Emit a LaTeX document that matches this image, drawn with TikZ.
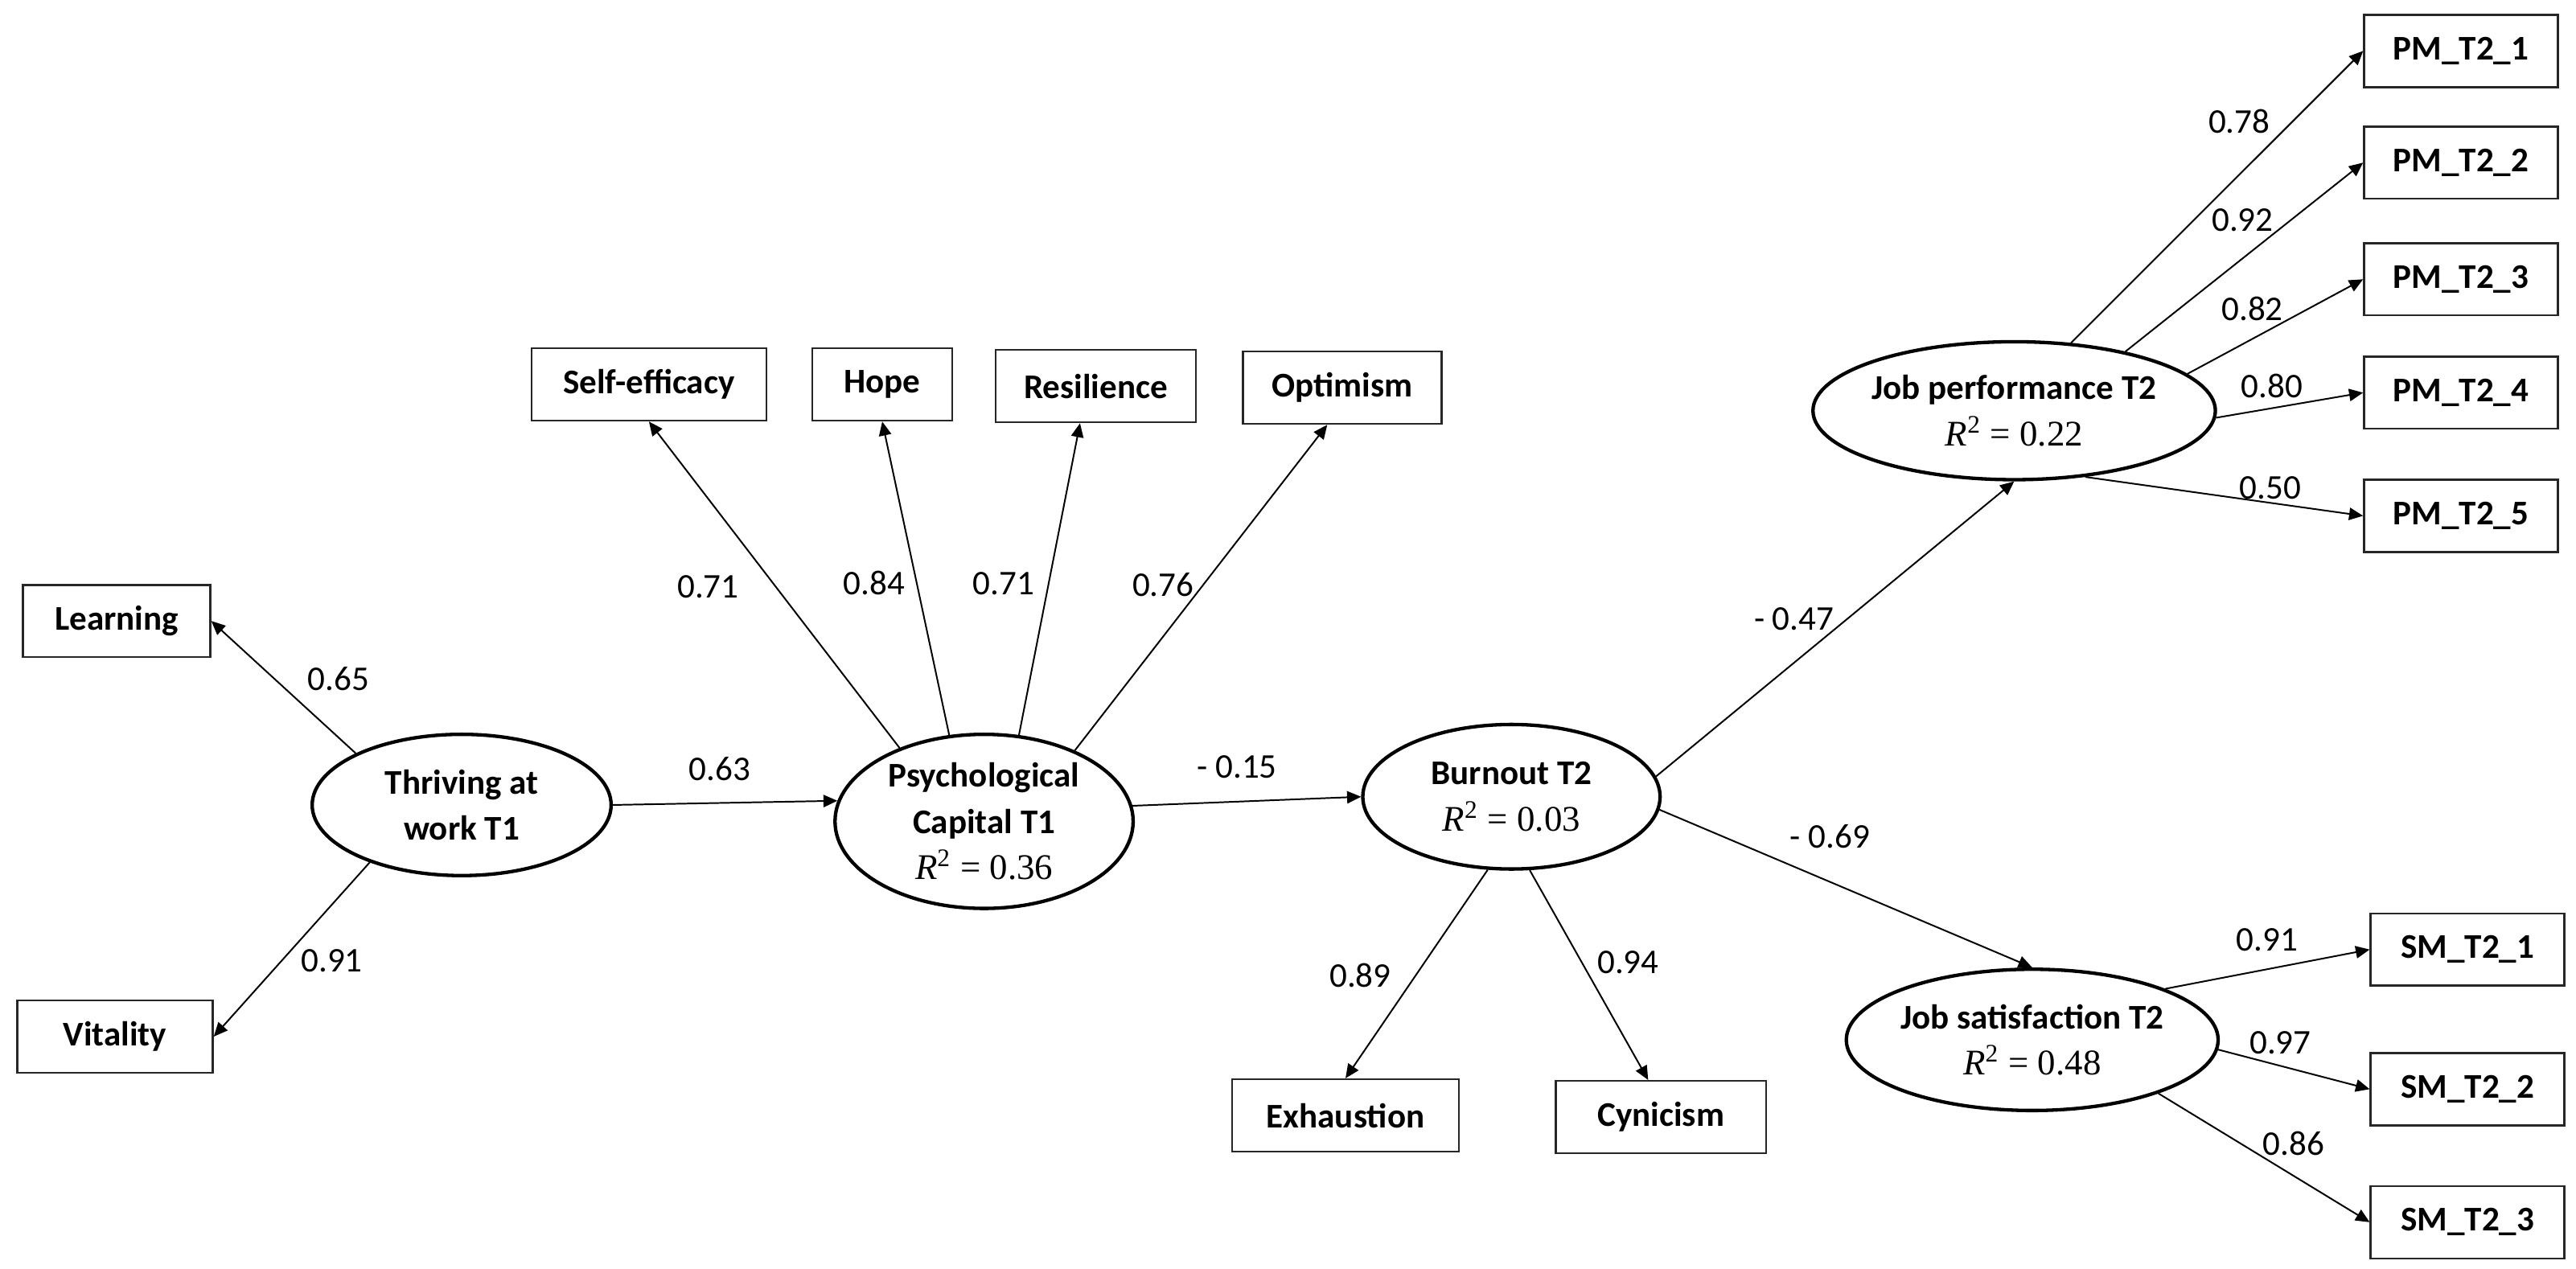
\documentclass[tikz,border=0pt]{standalone}
\usepackage{fontspec}
\setmainfont{Carlito}
\newfontfamily\timesfont{Liberation Serif}
\usetikzlibrary{shapes.geometric, arrows.meta, positioning}

\newcommand{\rsq}[1]{{\mdseries\timesfont\fontsize{12.5}{15}\selectfont\textit{R}\textsuperscript{2} = #1}}

\begin{document}
\begin{tikzpicture}[
    x=0.02cm, y=-0.02cm,
    latent/.style={ellipse, draw, line width=1.2pt, inner sep=0pt, align=center, font=\bfseries\fontsize{12}{16}\selectfont},
    item/.style={rectangle, draw=black!85, line width=0.7pt, minimum height=0.88cm, inner sep=0pt, font=\bfseries\fontsize{12}{14}\selectfont},
    arrow/.style={-{Triangle[length=0.17cm, width=0.15cm]}, line width=0.55pt},
    coef/.style={inner sep=1pt, font=\fontsize{12}{14}\selectfont}
]
\useasboundingbox (0,0) rectangle (1568,772);

\node[latent, minimum width=3.64cm, minimum height=1.72cm] (thr) at (281,490) {Thriving at\\work T1};
\node[latent, minimum width=3.63cm, minimum height=2.12cm] (psy) at (599,500) {Psychological\\Capital T1\\\rsq{0.36}};
\node[latent, minimum width=3.62cm, minimum height=1.76cm] (bo) at (920,485) {Burnout T2\\\rsq{0.03}};
\node[latent, minimum width=4.22cm, minimum height=1.68cm] (jp) at (1226,250) {Job performance T2\\\rsq{0.22}};
\node[latent, minimum width=4.1cm, minimum height=1.72cm] (js) at (1237,633) {Job satisfaction T2\\\rsq{0.48}};

\node[item, minimum width=2.28cm] (learn) at (71,378) {Learning};
\node[item, minimum width=2.38cm] (vital) at (70,631) {Vitality};
\node[item, minimum width=2.86cm] (seff) at (395,234) {Self-efficacy};
\node[item, minimum width=1.7cm] (hope) at (537,234) {Hope};
\node[item, minimum width=2.44cm] (resil) at (667,235) {Resilience};
\node[item, minimum width=2.42cm] (optim) at (817,236) {Optimism};
\node[item, minimum width=2.76cm] (exh) at (819,679) {Exhaustion};
\node[item, minimum width=2.56cm] (cyn) at (1011,680) {Cynicism};
\foreach \i/\y in {1/31, 2/99, 3/170, 4/239, 5/314}
    \node[item, minimum width=2.36cm] (pm\i) at (1498,\y) {PM\_T2\_\i};
\foreach \i/\y in {1/578, 2/663, 3/744}
    \node[item, minimum width=2.36cm] (sm\i) at (1502,\y) {SM\_T2\_\i};

\draw[arrow] (thr.154) -- (learn.east);
\draw[arrow] (thr.212) -- (vital.east);
\draw[arrow] (thr.east) -- (psy.172);
\draw[arrow] (psy.139) -- (seff.south);
\draw[arrow] (psy.112) -- (hope.south);
\draw[arrow] (psy.68) -- (resil.247);
\draw[arrow] (psy.38) -- (optim.248);
\draw[arrow] (psy.6) -- (bo.west);
\draw[arrow] (bo.252) -- (exh.north);
\draw[arrow] (bo.284) -- (cyn.109);
\draw[arrow] (bo.8) -- (jp.south);
\draw[arrow] (bo.355) -- (js.north);
\foreach \i/\a in {1/50, 2/28, 3/12, 4/358, 5/317}
    \draw[arrow] (jp.\a) -- (pm\i.west);
\foreach \i/\a in {1/21, 2/357, 3/337}
    \draw[arrow] (js.\a) -- (sm\i.west);

\node[coef] (c1) at (206,413) {0.65};
\node[coef] (c2) at (202,585) {0.91};
\node[coef] (c3) at (438,468) {0.63};
\node[coef] (c4) at (431,357) {0.71};
\node[coef] (c5) at (532,355) {0.84};
\node[coef] (c6) at (611,355) {0.71};
\node[coef] (c7) at (708,356) {0.76};
\node[coef] (c8) at (753,467) {- 0.15};
\node[coef] (c9) at (828,594) {0.89};
\node[coef] (c10) at (991,586) {0.94};
\node[coef] (c11) at (1092,377) {- 0.47};
\node[coef] (c12) at (1114,509) {- 0.69};
\node[coef] (c13) at (1363,74) {0.78};
\node[coef] (c14) at (1365,134) {0.92};
\node[coef] (c15) at (1371,188) {0.82};
\node[coef] (c16) at (1383,235) {0.80};
\node[coef] (c17) at (1382,297) {0.50};
\node[coef] (c18) at (1380,572) {0.91};
\node[coef] (c19) at (1388,635) {0.97};
\node[coef] (c20) at (1396,696) {0.86};

\end{tikzpicture}
\end{document}
